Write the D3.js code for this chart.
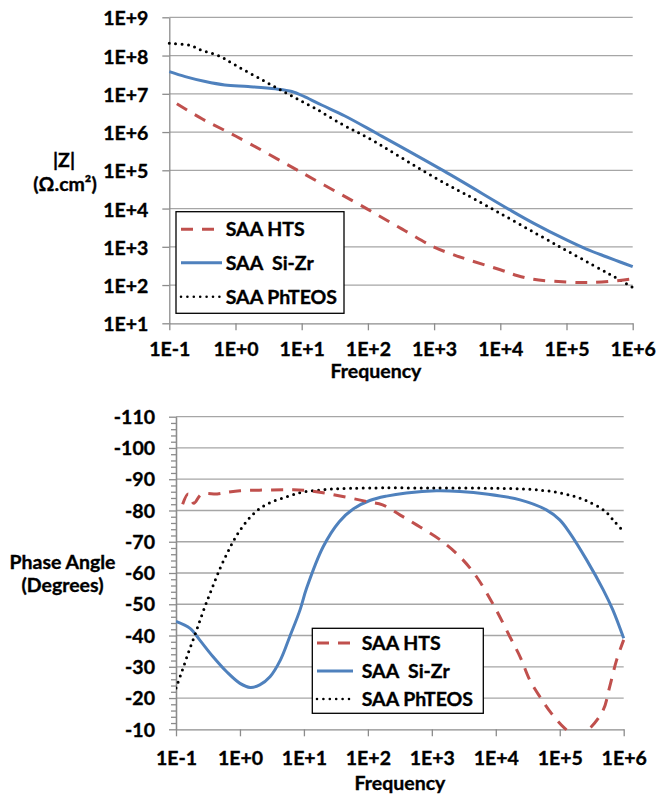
<!DOCTYPE html>
<html><head><meta charset="utf-8">
<script src="https://cdn.jsdelivr.net/npm/d3@7"></script>
<style>
body{margin:0;background:#fff}
text{font-family:Lato,"Open Sans",sans-serif;font-weight:bold;fill:#000;stroke:#000;stroke-width:0.35px}
</style>
</head><body><svg id="c" width="656" height="796"></svg>
<script>
// ---------- data ----------
const seriesNames = ["SAA HTS", "SAA  Si-Zr", "SAA PhTEOS"];
const freqTicks = [0.1, 1, 10, 100, 1e3, 1e4, 1e5, 1e6];
const freqLabels = ["1E-1","1E+0","1E+1","1E+2","1E+3","1E+4","1E+5","1E+6"];
const zTicks = [10, 100, 1e3, 1e4, 1e5, 1e6, 1e7, 1e8, 1e9];
const zLabels = ["1E+1","1E+2","1E+3","1E+4","1E+5","1E+6","1E+7","1E+8","1E+9"];
const phaseTicks = [-10,-20,-30,-40,-50,-60,-70,-80,-90,-100,-110];
const phaseLabels = ["-10","-20","-30","-40","-50","-60","-70","-80","-90","-100","-110"];

// |Z| (ohm.cm2) vs frequency (Hz)
const fHTS_Z = [0.13, 0.316, 1, 10, 100, 363, 1000, 1780, 3160, 1e4, 17800, 31600, 1e5, 251000, 631000, 1e6];
const zHTS   = [5.5e6, 2.19e6, 7.9e5, 8.7e4, 9.5e3, 2630, 980, 661, 468, 251, 178, 141, 120, 117, 132, 145];
const fSiZr_Z = [0.1, 0.174, 0.35, 0.69, 1.55, 4, 7.1, 11.2, 20, 45, 135, 1380, 14800, 31600, 1e5, 200000, 398000, 631000, 1e6];
const zSiZr   = [3.8e7, 2.82e7, 2.09e7, 1.7e7, 1.55e7, 1.35e7, 1.15e7, 8.3e6, 5.1e6, 2.63e6, 9.3e5, 9.8e4, 8700, 4170, 1510, 871, 550, 407, 302];
const fPh_Z = [0.1, 0.2, 0.316, 0.55, 1, 2.8, 6.6, 15.8, 43, 100, 1000, 4370, 79400, 646000, 1e6];
const zPh   = [2.09e8, 1.86e8, 1.35e8, 1.0e8, 5.6e7, 2.09e7, 9.3e6, 4.2e6, 1.51e6, 7.1e5, 6.6e4, 1.66e4, 1000, 135, 87];

// Phase angle (degrees) vs frequency (Hz)
const fHTS_P = [0.127, 0.155, 0.19, 0.25, 0.44, 0.63, 1, 2, 5, 10, 25, 100, 170, 316, 645, 1350, 2750, 5000, 9550, 16600, 24000, 33900, 49000, 74100, 120000, 186000, 295000, 479000, 603000, 776000, 1e6];
const pHTS   = [-82, -85.3, -82.3, -85.2, -85.3, -85.8, -86.3, -86.5, -86.6, -86.5, -85.3, -82.8, -81.8, -78.6, -74.8, -70.6, -65.2, -58.8, -49.2, -39.6, -33.2, -25.8, -20.4, -15.1, -10.3, -7.5, -10.3, -16.2, -23.6, -32.2, -38.6];
const fSiZr_P = [0.1, 0.166, 0.234, 0.38, 0.62, 1, 1.45, 2.04, 2.95, 4.3, 6, 8.7, 11, 20, 36, 59, 107, 195, 400, 1175, 2750, 7080, 24000, 61700, 1e5, 145000, 263000, 479000, 676000, 1e6];
const pSiZr   = [-44.5, -42.3, -38.6, -33.2, -28.4, -24.7, -23.4, -24.2, -26.8, -32.2, -39.6, -48.2, -55.1, -68.4, -76.5, -80.5, -83.2, -84.6, -85.6, -86.3, -86.1, -85.3, -83.4, -80.2, -77, -72.7, -64.2, -54.6, -48.2, -39.1];
const fPh_P = [0.1, 0.126, 0.158, 0.2, 0.251, 0.316, 0.398, 0.501, 0.631, 0.794, 1, 1.41, 2, 3.16, 5.4, 8.7, 13.8, 29, 100, 1000, 1e4, 31600, 79400, 162000, 263000, 501000, 724000, 1e6];
const pPh   = [-23.2, -29, -34.8, -40.5, -46.3, -51.8, -57, -62, -66.3, -70.3, -73.6, -77.6, -80.5, -82.8, -84.4, -85.7, -86.3, -86.9, -87.2, -87.2, -87.1, -86.8, -86, -84.6, -83.1, -79.9, -76.4, -73.2];

// ---------- styles ----------
const styles = [
  {color:"#C0504D", width:3, dash:"12,9", cap:"butt"},
  {color:"#4F81BD", width:3, dash:null, cap:"butt"},
  {color:"#000000", width:3, dash:"0,6.4", cap:"round"}
];
const gridColor = "#a6a6a6", axisColor = "#8c8c8c";
const FS = "19.5px";

const svg = d3.select("#c");
const zip = (fs, vs) => fs.map((f,i)=>({f:f, v:vs[i]}));

function styleAxis(g){
  g.attr("color", axisColor).attr("font-family",null).attr("font-size",null);
  g.selectAll(".domain").attr("stroke-width",1.3);
  g.selectAll(".tick line").attr("stroke-width",1.3);
  g.selectAll("text").attr("fill","#000").style("font-size",FS);
}

function legend(x, y, w, h, rowYs, lineX0, lineX1, textX){
  const g = svg.append("g");
  g.append("rect").attr("x",x).attr("y",y).attr("width",w).attr("height",h)
    .attr("fill","#fff").attr("stroke","#000").attr("stroke-width",1.3);
  seriesNames.forEach((n,i)=>{
    const s = styles[i];
    g.append("line").attr("x1",lineX0).attr("x2",lineX1).attr("y1",rowYs[i]).attr("y2",rowYs[i])
      .attr("stroke",s.color).attr("stroke-width", i===2?2.6:s.width)
      .attr("stroke-dasharray",s.dash).attr("stroke-linecap",s.cap);
    g.append("text").attr("x",textX).attr("y",rowYs[i]+7).style("font-size",FS)
      .style("white-space","pre").attr("xml:space","preserve").text(n);
  });
}

const curve = d3.curveCatmullRom.alpha(0.5);

// ---------- top chart ----------
{
  const xL=169.3, xR=632.7, yTop=17.3, yBot=323.3;
  const x = d3.scaleLog().domain([0.1,1e6]).range([xL,xR]);
  const y = d3.scaleLog().domain([10,1e9]).range([yBot,yTop]);

  svg.append("g").selectAll("line").data(zTicks.slice(1)).join("line")
    .attr("x1",xL).attr("x2",xR).attr("y1",d=>y(d)).attr("y2",d=>y(d))
    .attr("stroke",gridColor).attr("stroke-width",1.3);

  const ga = svg.append("g").attr("transform",`translate(${xL},0)`)
    .call(d3.axisLeft(y).tickValues(zTicks).tickFormat((d,i)=>zLabels[i]).tickSize(7).tickSizeOuter(0).tickPadding(14));
  styleAxis(ga); ga.selectAll("text").attr("dy","7.5px");
  const gb = svg.append("g").attr("transform",`translate(0,${yBot})`)
    .call(d3.axisBottom(x).tickValues(freqTicks).tickFormat((d,i)=>freqLabels[i]).tickSize(7).tickSizeOuter(0).tickPadding(11.8));
  styleAxis(gb);

  const line = d3.line().x(d=>x(d.f)).y(d=>y(d.v)).curve(curve);
  const data = [zip(fHTS_Z,zHTS), zip(fSiZr_Z,zSiZr), zip(fPh_Z,zPh)];
  [1,2,0].forEach(i=>{
    const s=styles[i];
    svg.append("path").attr("d",line(data[i])).attr("fill","none").attr("stroke",s.color)
      .attr("stroke-width",s.width).attr("stroke-dasharray",s.dash).attr("stroke-linecap",s.cap);
  });

  svg.append("text").attr("x",64).attr("y",167).attr("text-anchor","middle").style("font-size",FS).text("|Z|");
  svg.append("text").attr("x",65).attr("y",191).attr("text-anchor","middle").style("font-size",FS).text("(Ω.cm²)");
  svg.append("text").attr("x",376).attr("y",378).attr("text-anchor","middle").style("font-size",FS).text("Frequency");

  legend(176, 211.7, 168, 101.6, [229.3, 262.7, 296.7], 181, 222, 225.7);
}

// ---------- bottom chart ----------
{
  const xL=176, xR=623.7, yTop=416.7, yBot=729.3;
  const x = d3.scaleLog().domain([0.1,1e6]).range([xL,xR]);
  const y = d3.scaleLinear().domain([-10,-110]).range([yBot,yTop]);

  svg.append("g").selectAll("line").data(phaseTicks.slice(1)).join("line")
    .attr("x1",xL).attr("x2",xR).attr("y1",d=>y(d)).attr("y2",d=>y(d))
    .attr("stroke",gridColor).attr("stroke-width",1.3);

  const minors = d3.range(-12,-110,-2).filter(v=>v%10!==0);
  const gm = svg.append("g").attr("transform",`translate(${xL},0)`)
    .call(d3.axisLeft(y).tickValues(minors).tickFormat("").tickSize(5).tickSizeOuter(0));
  styleAxis(gm);
  const ga = svg.append("g").attr("transform",`translate(${xL},0)`)
    .call(d3.axisLeft(y).tickValues(phaseTicks).tickFormat((d,i)=>phaseLabels[i]).tickSize(7).tickSizeOuter(0).tickPadding(14));
  styleAxis(ga); ga.selectAll("text").attr("dy","6.7px");
  const gb = svg.append("g").attr("transform",`translate(0,${yBot})`)
    .call(d3.axisBottom(x).tickValues(freqTicks).tickFormat((d,i)=>freqLabels[i]).tickSize(7).tickSizeOuter(0).tickPadding(14.8));
  styleAxis(gb);

  svg.append("clipPath").attr("id","clipB").append("rect")
    .attr("x",xL).attr("y",yTop-5).attr("width",xR-xL+3).attr("height",yBot-yTop+6.5);

  const line = d3.line().x(d=>x(d.f)).y(d=>y(d.v)).curve(curve);
  const data = [zip(fHTS_P,pHTS), zip(fSiZr_P,pSiZr), zip(fPh_P,pPh)];
  const gl = svg.append("g").attr("clip-path","url(#clipB)");
  [1,2,0].forEach(i=>{
    const s=styles[i];
    gl.append("path").attr("d",line(data[i])).attr("fill","none").attr("stroke",s.color)
      .attr("stroke-width",s.width).attr("stroke-dasharray",s.dash).attr("stroke-linecap",s.cap);
  });

  svg.append("text").attr("x",62.5).attr("y",569).attr("text-anchor","middle").style("font-size",FS).text("Phase Angle");
  svg.append("text").attr("x",62.5).attr("y",592).attr("text-anchor","middle").style("font-size",FS).text("(Degrees)");
  svg.append("text").attr("x",400).attr("y",790).attr("text-anchor","middle").style("font-size",FS).text("Frequency");

  legend(312.3, 628.3, 171, 85, [643, 671, 699], 317, 353, 361.7);
}
</script>
</body></html>
